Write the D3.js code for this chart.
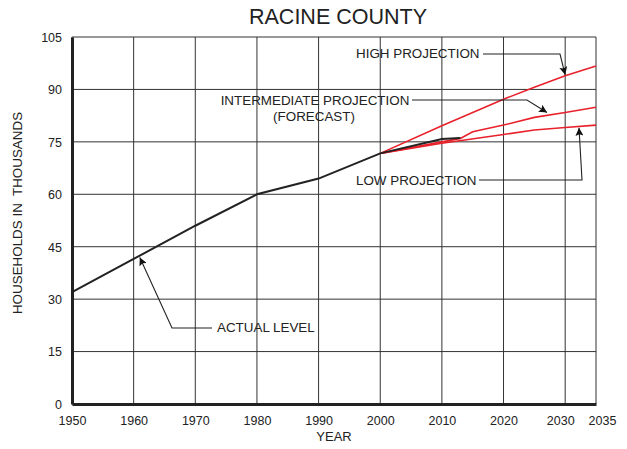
<!DOCTYPE html>
<html><head><meta charset="utf-8">
<script src="https://cdn.jsdelivr.net/npm/d3@7"></script>
<style>body{margin:0;background:#fff}svg{display:block}text{font-family:"Liberation Sans",Arial,sans-serif;fill:#222}</style>
</head><body><svg id="c" width="627" height="449"></svg>
<script>
const xTicks = [1950,1960,1970,1980,1990,2000,2010,2020,2030,2035];
const yTicks = [0,15,30,45,60,75,90,105];
const actualYears = [1950,1960,1970,1980,1990,2000,2010,2013];
const actualValues = [32.0,41.5,51.0,60.0,64.5,71.7,75.8,76.1];
const highYears = [2000,2010,2020,2025,2030,2035];
const highValues = [71.7,79.6,87.2,90.6,93.9,96.7];
const interYears = [2000,2010,2013,2015,2020,2025,2030,2035];
const interValues = [71.7,75.0,76.0,77.9,79.8,82.0,83.4,84.9];
const lowYears = [2000,2010,2020,2025,2030,2035];
const lowValues = [71.7,74.6,77.1,78.4,79.1,79.8];

const svg = d3.select("#c");
const x = d3.scaleLinear().domain([1950,2035]).range([72,596]);
const y = d3.scaleLinear().domain([0,105]).range([404,37]);

// grid
const g = svg.append("g");
g.selectAll("line.v").data(xTicks).enter().append("line")
  .attr("x1",d=>x(d)).attr("x2",d=>x(d)).attr("y1",y(0)).attr("y2",y(105))
  .attr("stroke","#333").attr("stroke-width",1);
g.selectAll("line.h").data(yTicks).enter().append("line")
  .attr("x1",x(1950)).attr("x2",x(2035)).attr("y1",d=>y(d)).attr("y2",d=>y(d))
  .attr("stroke","#333").attr("stroke-width",1);

// axes
const xa = svg.append("g").attr("transform",`translate(0,${y(0)})`)
  .call(d3.axisBottom(x).tickValues(xTicks).tickFormat(d3.format("d")).tickSize(0).tickPadding(12));
const ya = svg.append("g").attr("transform",`translate(${x(1950)},0)`)
  .call(d3.axisLeft(y).tickValues(yTicks).tickSize(0).tickPadding(10));
[xa,ya].forEach(a=>{a.select(".domain").attr("stroke","#222").attr("stroke-width",3);
  a.selectAll("text").attr("font-size",12.5).attr("fill","#222").attr("font-family","Liberation Sans, Arial, sans-serif");});
xa.selectAll(".tick text").filter(d=>d===2030).attr("dx",-5);
xa.selectAll(".tick text").filter(d=>d===2035).attr("dx",6);
ya.selectAll(".tick text").attr("dy","0.35em");

// lines
const line = d3.line().x(d=>x(d[0])).y(d=>y(d[1]));
const series = [
  {yrs:highYears, vals:highValues, c:"#e8212b", w:1.6},
  {yrs:interYears, vals:interValues, c:"#e8212b", w:1.6},
  {yrs:lowYears, vals:lowValues, c:"#e8212b", w:1.6},
  {yrs:actualYears, vals:actualValues, c:"#222", w:2}
];
series.forEach(s=>{
  svg.append("path").datum(s.yrs.map((yr,i)=>[yr,s.vals[i]]))
    .attr("d",line).attr("fill","none").attr("stroke",s.c).attr("stroke-width",s.w);
});

// title & labels
svg.append("text").attr("x",338).attr("y",24).attr("text-anchor","middle").attr("font-size",21.5).text("RACINE COUNTY");
svg.append("text").attr("x",334).attr("y",441).attr("text-anchor","middle").attr("font-size",13).text("YEAR");
svg.append("text").attr("transform","translate(22,213) rotate(-90)").attr("text-anchor","middle").attr("font-size",13.4)
  .attr("xml:space","preserve").style("white-space","pre").text("HOUSEHOLDS IN  THOUSANDS");

// annotations
const defs = svg.append("defs");
defs.append("marker").attr("id","ah").attr("viewBox","0 0 10 10").attr("refX",10).attr("refY",5)
  .attr("markerWidth",16).attr("markerHeight",8).attr("markerUnits","userSpaceOnUse").attr("orient","auto")
  .append("path").attr("d","M0,0 L10,5 L0,10 L2,5 Z").attr("fill","#111");
function ann(pts){
  svg.append("polyline").attr("points",pts.map(p=>p.join(",")).join(" "))
    .attr("fill","none").attr("stroke","#222").attr("stroke-width",1.1).attr("marker-end","url(#ah)");
}
function label(t,tx,ty,anchor){
  return svg.append("text").attr("x",tx).attr("y",ty).attr("text-anchor",anchor||"start").attr("font-size",13.4).text(t);
}
label("HIGH PROJECTION",356,58);
ann([[483,54],[560,54],[x(2030),y(93.9)-1]]);
label("INTERMEDIATE PROJECTION",315,105,"middle");
label("(FORECAST)",314,121,"middle");
ann([[412,100],[527,100],[547,112.5]]);
label("LOW PROJECTION",356,185);
ann([[479,180],[582,180],[579,y(79.3)+1]]);
label("ACTUAL LEVEL",217,332);
ann([[212,328],[172,328],[x(1961),y(42.2)+1]]);
</script></body></html>
